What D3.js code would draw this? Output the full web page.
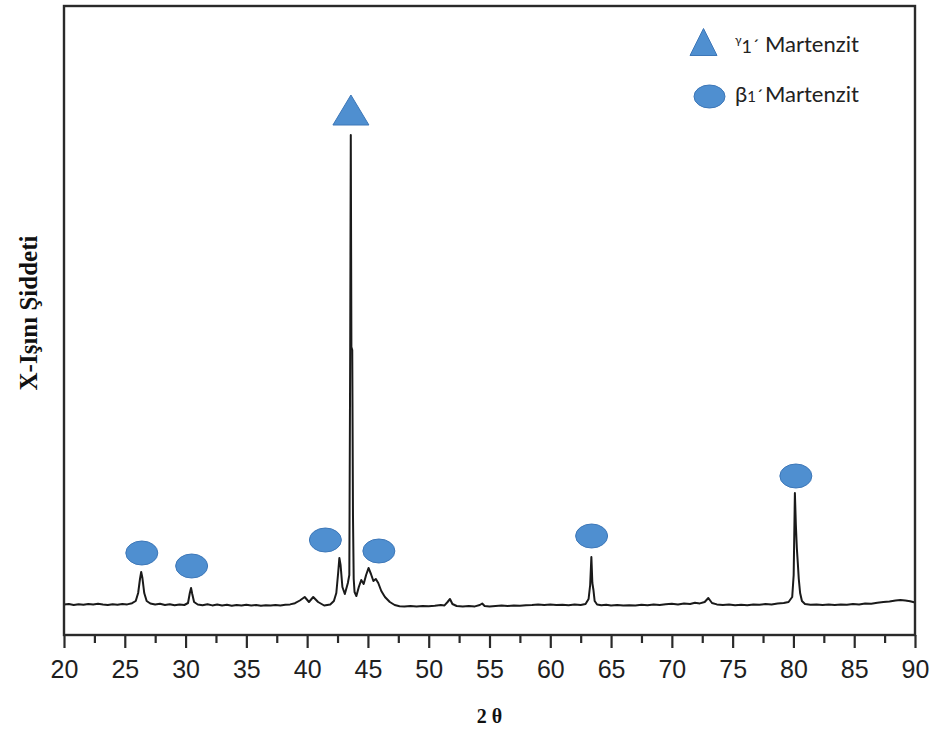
<!DOCTYPE html>
<html>
<head>
<meta charset="utf-8">
<script src="https://cdn.jsdelivr.net/npm/d3@7"></script>
<style>
  html, body { margin: 0; padding: 0; background: #fff; }
  svg { display: block; }
</style>
</head>
<body>
<svg id="chart" width="938" height="735"></svg>
<script>
// XRD pattern: 2θ (degrees) and diffracted intensity (arbitrary units)
const twoTheta = [
  20.0, 20.4, 20.8, 21.2, 21.6, 22.0, 22.4, 22.8, 23.2, 23.6, 24.0, 24.4, 24.8, 25.2, 25.6, 25.9,
  26.1, 26.25, 26.35, 26.45, 26.6, 26.8, 27.1, 27.5, 27.9, 28.3, 28.7, 29.1, 29.5, 29.9,
  30.2, 30.35, 30.45, 30.55, 30.7, 31.0, 31.4, 31.8, 32.2, 32.6, 33.0, 33.4, 33.8, 34.2, 34.6,
  35.0, 35.4, 35.8, 36.2, 36.6, 37.0, 37.4, 37.8, 38.2, 38.6, 39.0, 39.4, 39.8, 40.15, 40.5,
  40.9, 41.4, 41.9, 42.2, 42.4, 42.55, 42.65, 42.75, 42.9, 43.1, 43.35, 43.47, 43.54, 43.59,
  43.64, 43.71, 43.77, 43.83, 43.9, 44.05, 44.25, 44.45, 44.65, 44.85, 45.05, 45.25, 45.45,
  45.65, 45.85, 46.1, 46.4, 46.8, 47.2, 47.6, 48.0, 48.5, 49.0, 49.5, 50.0, 50.5, 51.0, 51.3,
  51.55, 51.75, 51.95, 52.3, 52.8, 53.3, 53.8, 54.2, 54.4, 54.6, 55.0, 55.5, 56.0, 56.5, 57.0,
  57.5, 58.0, 58.5, 59.0, 59.5, 60.0, 60.5, 61.0, 61.5, 62.0, 62.5, 62.9, 63.15, 63.28, 63.38,
  63.46, 63.55, 63.65, 63.85, 64.2, 64.6, 65.0, 65.5, 66.0, 66.5, 67.0, 67.5, 68.0, 68.5, 69.0,
  69.5, 70.0, 70.5, 71.0, 71.5, 71.9, 72.3, 72.7, 73.0, 73.3, 73.7, 74.2, 74.7, 75.2, 75.7,
  76.2, 76.7, 77.2, 77.7, 78.2, 78.7, 79.2, 79.6, 79.9, 80.02, 80.12, 80.2, 80.28, 80.36, 80.44,
  80.55, 80.7, 80.95, 81.4, 81.9, 82.4, 82.9, 83.4, 83.9, 84.4, 84.9, 85.4, 85.9, 86.4, 86.9,
  87.4, 87.9, 88.4, 88.8, 89.2, 89.6, 90.0
];
const intensity = [
  305, 310, 300, 308, 302, 310, 304, 312, 305, 300, 308, 303, 310, 306, 318, 340,
  420, 560, 630, 570, 420, 340, 315, 305, 312, 300, 308, 298, 306, 300,
  320, 420, 470, 410, 330, 305, 298, 308, 296, 304, 295, 302, 292, 300, 294,
  302, 296, 300, 292, 298, 294, 300, 296, 302, 306, 318, 345, 380, 330, 380,
  330, 295, 305, 340, 420, 620, 770, 700, 480, 410, 520, 600, 2800, 5000,
  2880, 2850, 1200, 560, 430, 390, 480, 550, 510, 600, 670, 610, 540,
  560, 520, 440, 380, 330, 300, 288, 285, 290, 286, 290, 288, 292, 300, 296,
  330, 360, 310, 290, 286, 290, 286, 300, 315, 290, 286, 290, 294, 290, 296,
  292, 298, 300, 306, 300, 304, 300, 302, 298, 304, 300, 310, 360, 500, 780,
  520, 450, 340, 305, 298, 302, 296, 300, 294, 298, 296, 302, 298, 306, 300,
  308, 312, 306, 316, 310, 322, 316, 330, 370, 320, 306, 300, 304, 298, 302,
  298, 306, 302, 310, 306, 316, 320, 330, 380, 600, 1420, 1100, 870, 720, 560,
  420, 340, 310, 302, 306, 300, 304, 300, 306, 302, 310, 306, 316, 312, 322,
  330, 336, 345, 350, 345, 338, 325
];

// Phase markers placed above the indexed reflections
const betaTheta = [26.4, 30.5, 41.5, 45.9, 63.4, 80.2];
const betaLevel = [820, 690, 950, 840, 990, 1590];
const gammaTheta = [43.6];
const gammaLevel = [5250];

// Axis ticks
const majorTicks = [20, 25, 30, 35, 40, 45, 50, 55, 60, 65, 70, 75, 80, 85, 90];
const minorTicks = [22.5, 27.5, 32.5, 37.5, 42.5, 47.5, 52.5, 57.5, 62.5, 67.5, 72.5, 77.5, 82.5, 87.5];

const legendLabels = ["Martenzit", "Martenzit"];

const svg = d3.select("#chart");
const plot = { left: 64, right: 915, top: 6, bottom: 635 };

const x = d3.scaleLinear().domain([20, 90]).range([plot.left, plot.right]);
const y = d3.scaleLinear().domain([0, 6290]).range([plot.bottom, plot.top]);

const markerFill = "#4f8fd0";
const markerStroke = "#3d77b8";

// Diffraction curve
const points = twoTheta.map((t, i) => [t, intensity[i]]);
const line = d3.line().x(d => x(d[0])).y(d => y(d[1]));
svg.append("path")
  .datum(points)
  .attr("d", line)
  .attr("fill", "none")
  .attr("stroke", "#1a1a1a")
  .attr("stroke-width", 2)
  .attr("stroke-linejoin", "round");

// Frame
svg.append("rect")
  .attr("x", plot.left).attr("y", plot.top)
  .attr("width", plot.right - plot.left).attr("height", plot.bottom - plot.top)
  .attr("fill", "none").attr("stroke", "#2a2a2a").attr("stroke-width", 2.4);

// Bottom axis: major ticks with labels, minor ticks without
const axisMajor = d3.axisBottom(x).tickValues(majorTicks).tickSize(13).tickPadding(12)
  .tickFormat(d3.format("d"));
const gx = svg.append("g").attr("transform", `translate(0,${plot.bottom})`).call(axisMajor);
gx.select(".domain").remove();
gx.selectAll(".tick line").attr("stroke", "#2a2a2a").attr("stroke-width", 2.2);
gx.selectAll(".tick text")
  .attr("font-family", "'Liberation Sans', Arial, sans-serif")
  .attr("font-size", 25)
  .attr("fill", "#1e1e1e");

const axisMinor = d3.axisBottom(x).tickValues(minorTicks).tickSize(8).tickFormat("");
const gm = svg.append("g").attr("transform", `translate(0,${plot.bottom})`).call(axisMinor);
gm.select(".domain").remove();
gm.selectAll(".tick line").attr("stroke", "#2a2a2a").attr("stroke-width", 2.2);

// Axis titles
svg.append("text")
  .attr("x", (plot.left + plot.right) / 2).attr("y", 723)
  .attr("text-anchor", "middle")
  .attr("font-family", "'Liberation Serif', 'Times New Roman', serif")
  .attr("font-weight", "bold").attr("font-size", 20).attr("fill", "#111")
  .text("2 θ");

svg.append("text")
  .attr("transform", "translate(37,313) rotate(-90)")
  .attr("text-anchor", "middle")
  .attr("font-family", "'Liberation Serif', 'Times New Roman', serif")
  .attr("font-weight", "bold").attr("font-size", 25).attr("fill", "#111")
  .text("X-Işını Şiddeti");

// Marker shapes
function trianglePath(cx, cy, w, h) {
  return `M${cx},${cy - h / 2}L${cx + w / 2},${cy + h / 2}L${cx - w / 2},${cy + h / 2}Z`;
}

svg.selectAll("ellipse.beta")
  .data(betaTheta.map((t, i) => [t, betaLevel[i]]))
  .join("ellipse")
  .attr("class", "beta")
  .attr("cx", d => x(d[0])).attr("cy", d => y(d[1]))
  .attr("rx", 16).attr("ry", 12)
  .attr("fill", markerFill).attr("stroke", markerStroke).attr("stroke-width", 1);

svg.selectAll("path.gamma")
  .data(gammaTheta.map((t, i) => [t, gammaLevel[i]]))
  .join("path")
  .attr("class", "gamma")
  .attr("d", d => trianglePath(x(d[0]), y(d[1]), 36, 30))
  .attr("fill", markerFill).attr("stroke", markerStroke).attr("stroke-width", 1);

// Legend
const lg = svg.append("g");
const legendFont = "Lato, 'Open Sans', Calibri, sans-serif";
lg.append("path").attr("d", trianglePath(703.5, 42, 27, 27))
  .attr("fill", markerFill).attr("stroke", markerStroke).attr("stroke-width", 1);
lg.append("ellipse").attr("cx", 709.5).attr("cy", 96.5).attr("rx", 15.5).attr("ry", 11.5)
  .attr("fill", markerFill).attr("stroke", markerStroke).attr("stroke-width", 1);

const g1 = lg.append("text").attr("x", 735).attr("y", 52)
  .attr("font-family", legendFont).attr("fill", "#222");
g1.append("tspan").attr("font-size", 12).attr("dy", -8).text("γ");
g1.append("tspan").attr("font-size", 18).attr("dy", 9).text("1");
g1.append("tspan").attr("font-size", 18).attr("dy", -1).text("´");
lg.append("text").attr("x", 765).attr("y", 52)
  .attr("font-family", legendFont).attr("font-size", 22).attr("fill", "#222")
  .text(legendLabels[0]);

const b1 = lg.append("text").attr("x", 735).attr("y", 102)
  .attr("font-family", legendFont).attr("fill", "#222");
b1.append("tspan").attr("font-size", 22).text("β");
b1.append("tspan").attr("font-size", 15).text("1");
b1.append("tspan").attr("font-size", 18).text("´");
lg.append("text").attr("x", 765).attr("y", 102)
  .attr("font-family", legendFont).attr("font-size", 22).attr("fill", "#222")
  .text(legendLabels[1]);
</script>
</body>
</html>
